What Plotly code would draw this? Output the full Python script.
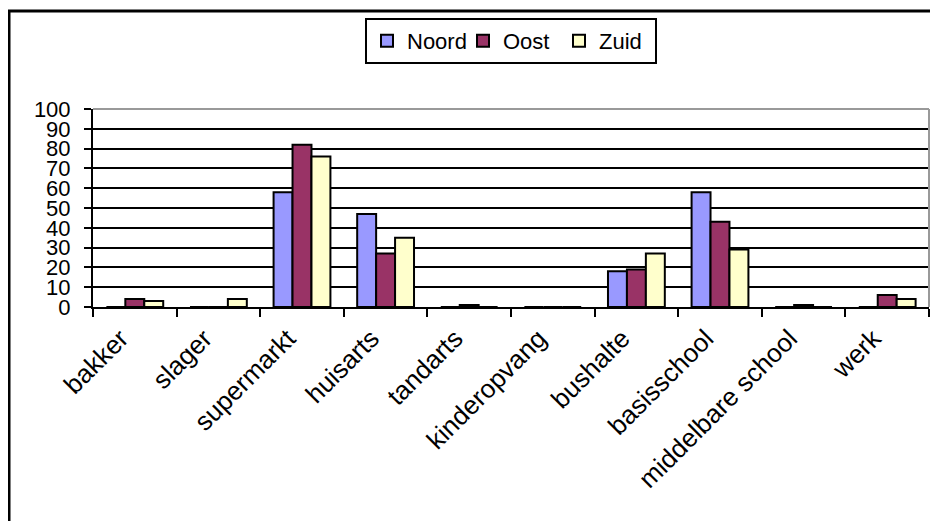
import plotly.graph_objects as go

categories = ["bakker", "slager", "supermarkt", "huisarts", "tandarts",
              "kinderopvang", "bushalte", "basisschool", "middelbare school", "werk"]
noord = [0, 0, 58, 47, 0, 0, 18, 58, 0, 0]
oost = [4, 0, 82, 27, 1, 0, 19, 43, 1, 6]
zuid = [3, 4, 76, 35, 0, 0, 27, 29, 0, 4]
y_ticks = [0, 10, 20, 30, 40, 50, 60, 70, 80, 90, 100]

FONT = "Liberation Sans, Arial, sans-serif"
OFF = 8  # default page body margin
W, H = 938 - OFF, 521 - OFF
L, R, T, B = 93 - OFF, 9, 109 - OFF, 214
pw, ph = W - L - R, H - T - B

def px_x(x):  # page pixel -> paper
    return (x - OFF - L) / pw

def px_y(y):
    return (H - B - (y - OFF)) / ph

fig = go.Figure()
for name, vals, col in [("Noord", noord, "#9999FF"),
                        ("Oost", oost, "#993366"),
                        ("Zuid", zuid, "#FFFFCC")]:
    fig.add_trace(go.Bar(x=categories, y=vals, name=name,
                         marker=dict(color=col, line=dict(color="black", width=2))))

fig.update_layout(
    width=W, height=H,
    margin=dict(l=L, r=R, t=T, b=B, autoexpand=False),
    paper_bgcolor="white", plot_bgcolor="white",
    barmode="group", bargap=0.32, bargroupgap=0,
    font=dict(family=FONT, size=22, color="black"),
    showlegend=True,
    legend=dict(orientation="h", x=px_x(365), y=px_y(18), xanchor="left", yanchor="top",
                bordercolor="black", borderwidth=2, bgcolor="white",
                font=dict(family=FONT, size=22, color="black"),
                entrywidth=51, entrywidthmode="pixels",
                itemsizing="constant", traceorder="normal"),
    xaxis=dict(type="category", tickson="boundaries", ticks="outside", ticklen=8,
               tickwidth=2, tickcolor="black", showline=True, linecolor="black",
               linewidth=2, showgrid=False, tickangle=-45,
               ticklabelshift=-14, ticklabelstandoff=4,
               tickfont=dict(family=FONT, size=26, color="black")),
    yaxis=dict(range=[0, 100], tickvals=y_ticks, ticks="outside", ticklen=7,
               tickwidth=2, tickcolor="black", showline=True, linecolor="black",
               linewidth=2, showgrid=True, gridcolor="black", gridwidth=2,
               zeroline=False, ticklabelstandoff=9,
               tickfont=dict(family=FONT, size=22, color="black")),
    shapes=[
        dict(type="line", xref="paper", yref="paper", x0=0, x1=1, y0=1, y1=1,
             line=dict(color="#999999", width=2), layer="above"),
        dict(type="line", xref="paper", yref="paper", x0=1, x1=1, y0=0, y1=1,
             line=dict(color="#999999", width=2), layer="above"),
        dict(type="rect", xref="paper", yref="paper",
             x0=px_x(9), x1=px_x(980), y0=px_y(580), y1=px_y(11),
             line=dict(color="black", width=3), fillcolor="rgba(0,0,0,0)", layer="above"),
    ],
)

fig.write_html("out.html")
